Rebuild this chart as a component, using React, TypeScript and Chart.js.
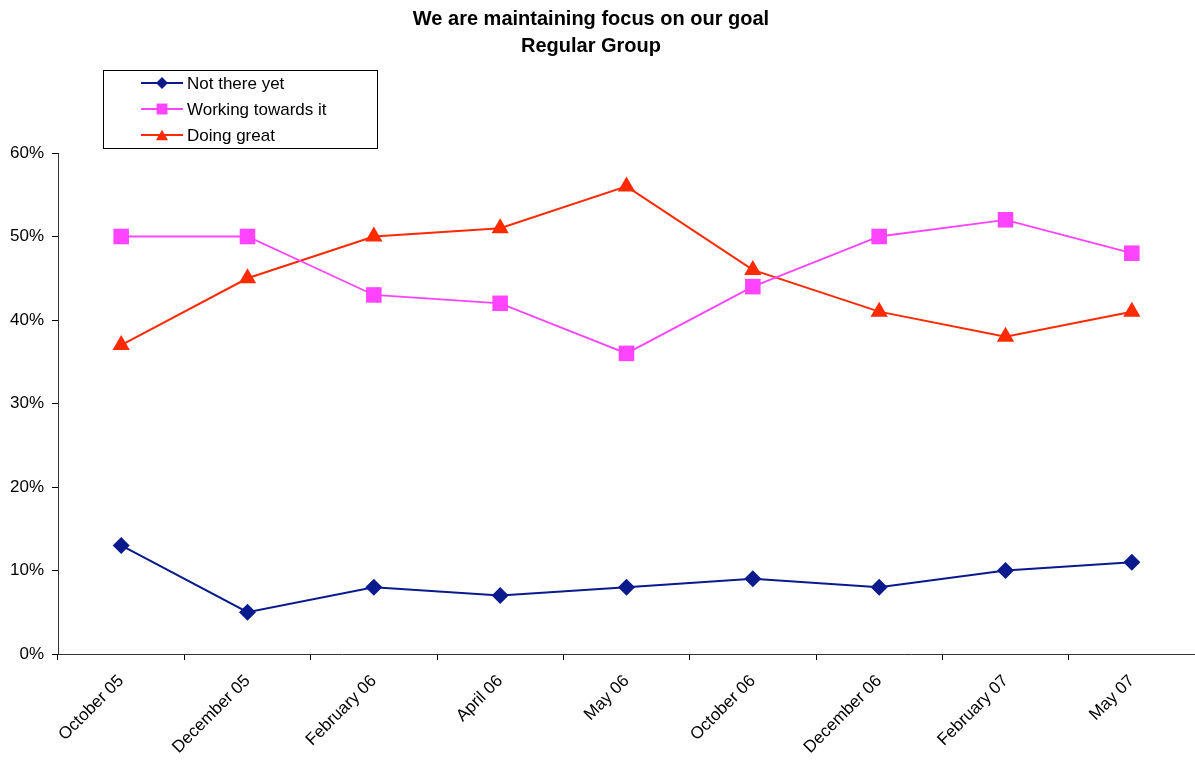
import React, { useEffect, useRef } from "react";
import { Chart, registerables } from "chart.js";

Chart.register(...registerables);

const categories = [
  "October 05",
  "December 05",
  "February 06",
  "April 06",
  "May 06",
  "October 06",
  "December 06",
  "February 07",
  "May 07",
];
const notThereYet = [13, 5, 8, 7, 8, 9, 8, 10, 11];
const workingTowards = [50, 50, 43, 42, 36, 44, 50, 52, 48];
const doingGreat = [37, 45, 50, 51, 56, 46, 41, 38, 41];
const titleLines = ["We are maintaining focus on our goal", "Regular Group"];

const FONT = '"Liberation Sans", Arial, Helvetica, sans-serif';
const NAVY = "#0A1A8C";
const MAGENTA = "#FF44FF";
const RED = "#FF2A00";

function drawMarker(ctx: CanvasRenderingContext2D, style: string, x: number, y: number, r: number, color: string) {
  ctx.save();
  ctx.fillStyle = color;
  ctx.beginPath();
  if (style === "rectRot") {
    ctx.moveTo(x, y - r);
    ctx.lineTo(x + r, y);
    ctx.lineTo(x, y + r);
    ctx.lineTo(x - r, y);
    ctx.closePath();
  } else if (style === "rect") {
    const s = Math.SQRT1_2 * r;
    ctx.rect(x - s, y - s, 2 * s, 2 * s);
  } else {
    const a = Math.PI / 2;
    for (let i = 0; i < 3; i++) {
      const ang = -a + (i * 2 * Math.PI) / 3;
      const px = x + Math.cos(ang) * r;
      const py = y + Math.sin(ang) * r + r * 0.25;
      if (i === 0) ctx.moveTo(px, py);
      else ctx.lineTo(px, py);
    }
    ctx.closePath();
  }
  ctx.fill();
  ctx.restore();
}

const decorPlugin = {
  id: "decor",
  afterDraw(chart: any) {
    const ctx: CanvasRenderingContext2D = chart.ctx;
    ctx.save();
    // Title
    ctx.fillStyle = "#000";
    ctx.font = `bold 20px ${FONT}`;
    ctx.textAlign = "center";
    ctx.textBaseline = "middle";
    ctx.fillText(titleLines[0], 591, 19);
    ctx.fillText(titleLines[1], 591, 46);

    // Legend box
    ctx.strokeStyle = "#000";
    ctx.lineWidth = 1;
    ctx.strokeRect(103.5, 70.5, 274, 78);
    const items = chart.data.datasets.map((d: any) => ({
      label: d.label,
      color: d.borderColor,
      style: d.pointStyle,
      r: d.pointRadius,
      lw: d.borderWidth,
    }));
    items.forEach((it: any, i: number) => {
      const y = 83 + i * 26;
      ctx.strokeStyle = it.color;
      ctx.lineWidth = it.lw;
      ctx.beginPath();
      ctx.moveTo(141, y);
      ctx.lineTo(183, y);
      ctx.stroke();
      drawMarker(ctx, it.style, 162, y, it.r * 0.7, it.color);
      ctx.fillStyle = "#000";
      ctx.font = `17px ${FONT}`;
      ctx.textAlign = "left";
      ctx.fillText(it.label, 187, y + 1);
    });
    ctx.restore();
  },
};

export default function App() {
  const ref = useRef<HTMLCanvasElement | null>(null);
  useEffect(() => {
    if (!ref.current) return;
    const chart = new Chart(ref.current, {
      type: "line",
      data: {
        labels: categories,
        datasets: [
          {
            label: "Not there yet",
            data: notThereYet,
            borderColor: NAVY,
            backgroundColor: NAVY,
            borderWidth: 2,
            pointStyle: "rectRot",
            pointRadius: 8.5,
            pointHoverRadius: 8.5,
            pointBorderWidth: 0,
            tension: 0,
          },
          {
            label: "Working towards it",
            data: workingTowards,
            borderColor: MAGENTA,
            backgroundColor: MAGENTA,
            borderWidth: 1.8,
            pointStyle: "rect",
            pointRadius: 11,
            pointHoverRadius: 11,
            pointBorderWidth: 0,
            tension: 0,
          },
          {
            label: "Doing great",
            data: doingGreat,
            borderColor: RED,
            backgroundColor: RED,
            borderWidth: 2,
            pointStyle: "triangle",
            pointRadius: 10,
            pointHoverRadius: 10,
            pointBorderWidth: 0,
            tension: 0,
          },
        ],
      },
      options: {
        responsive: false,
        animation: false,
        events: [],
        layout: { autoPadding: false, padding: { top: 153, right: -3, left: 0, bottom: 0 } },
        plugins: {
          legend: { display: false },
          title: { display: false },
          tooltip: { enabled: false },
        },
        scales: {
          x: {
            type: "category",
            offset: true,
            grid: {
              offset: true,
              drawOnChartArea: false,
              drawTicks: true,
              tickLength: 6,
              color: "#000",
            },
            border: { display: true, color: "#333", width: 1 },
            ticks: {
              maxRotation: 45,
              minRotation: 45,
              autoSkip: false,
              color: "#000",
              font: { family: FONT, size: 17 },
              padding: 11,
            },
            afterFit(scale: any) {
              scale.height = 107;
              scale.paddingLeft = 0;
              scale.paddingRight = 0;
            },
          },
          y: {
            min: 0,
            max: 60,
            ticks: {
              stepSize: 10,
              color: "#000",
              font: { family: FONT, size: 17 },
              padding: 8,
              callback: (v: any) => v + "%",
            },
            grid: {
              drawOnChartArea: false,
              drawTicks: true,
              tickLength: 6,
              color: "#000",
            },
            border: { display: true, color: "#333", width: 1 },
            afterFit(scale: any) {
              scale.width = 58;
              scale.paddingTop = 0;
              scale.paddingBottom = 0;
            },
          },
        },
      },
      plugins: [decorPlugin],
    });
    return () => chart.destroy();
  }, []);
  return (
    <div style={{ position: "absolute", left: 0, top: 0, width: 1195, height: 761, background: "#fff" }}>
      <canvas ref={ref} width={1195} height={761} style={{ display: "block" }} />
    </div>
  );
}
